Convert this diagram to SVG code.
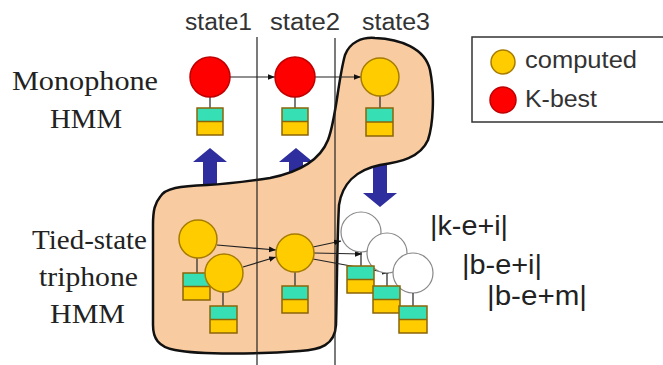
<svg xmlns="http://www.w3.org/2000/svg" width="663" height="365" viewBox="0 0 663 365">
<defs>
<style>
.serif{font-family:"Liberation Serif","Times New Roman",serif;font-size:28px;fill:#222;text-anchor:middle}
.sans{font-family:"Liberation Sans",Arial,sans-serif;fill:#333}
.yc{fill:#FFCC00;stroke:#A67C00;stroke-width:1.5}
.rc{fill:#FF0000;stroke:#C00000;stroke-width:1.5}
.wc{fill:#FFFFFF;stroke:#888;stroke-width:1.2}
.g{fill:#36E0B4}
.y{fill:#FFCC00}
.box{fill:none;stroke:#8B6508;stroke-width:1.5}
.stem{stroke:#333;stroke-width:1.3}
.conn{stroke:#222;stroke-width:1.2;fill:none}
.blue{fill:#2E2E9E}
.div{stroke:#222;stroke-width:1.2}
</style>
<marker id="ah" viewBox="0 0 10 10" refX="10" refY="5" markerWidth="7" markerHeight="7" orient="auto" markerUnits="userSpaceOnUse">
<path d="M0,1 L10,5 L0,9 Z" fill="#111"/>
</marker>
</defs>
<rect width="663" height="365" fill="#FFFFFF"/>

<!-- blue arrows (under blob) -->
<g id="arrow-up-1"><path class="blue" d="M210,148 L227,162 L217,162 L217,195 L203,195 L203,162 L193,162 Z"/></g>
<g id="arrow-up-2"><path class="blue" d="M296,148 L313,162 L303,162 L303,190 L289,190 L289,162 L279,162 Z"/></g>
<g id="arrow-down"><path class="blue" d="M380,207 L397,193 L387,193 L387,155 L373,155 L373,193 L363,193 Z"/></g>

<!-- blob -->
<g id="blob">
<path d="M160,197 C165,188 180,186 207,185 C230,184 250,181 270,178 C300,172 320,160 328,140 C336,120 338,80 345,55 C350,42 362,37 375,38 C400,39 425,48 430,70 C435,95 433,125 428,140 C420,158 400,162 380,165 C355,170 342,185 339,205 C337,240 337,290 336,325 C335,345 320,350 300,351 C260,354 200,355 175,350 C158,347 153,338 153,325 L153,225 C153,210 155,203 160,197 Z" fill="#F9CBA0" stroke="#111" stroke-width="2.5"/>
</g>

<!-- dividers -->
<g id="dividers">
<line class="div" x1="257" y1="37" x2="257" y2="365"/>
<line class="div" x1="335" y1="38" x2="335" y2="365"/>
</g>

<!-- headers -->
<g id="headers" class="sans" font-size="23">
<text x="185" y="30" textLength="67" lengthAdjust="spacingAndGlyphs">state1</text>
<text x="270" y="30" textLength="70" lengthAdjust="spacingAndGlyphs">state2</text>
<text x="362" y="30" textLength="68" lengthAdjust="spacingAndGlyphs">state3</text>
</g>

<!-- row labels -->
<g id="label-mono">
<text class="serif" x="85" y="90" textLength="146" lengthAdjust="spacingAndGlyphs">Monophone</text>
<text class="serif" x="86" y="128" textLength="72" lengthAdjust="spacingAndGlyphs">HMM</text>
</g>
<g id="label-tri">
<text class="serif" x="89.5" y="249" textLength="115" lengthAdjust="spacingAndGlyphs">Tied-state</text>
<text class="serif" x="88.5" y="286" textLength="99" lengthAdjust="spacingAndGlyphs">triphone</text>
<text class="serif" x="87.5" y="323" textLength="75" lengthAdjust="spacingAndGlyphs">HMM</text>
</g>

<!-- connectors -->
<g id="connectors">
<line class="conn" x1="230" y1="77" x2="275" y2="77" marker-end="url(#ah)"/>
<line class="conn" x1="315" y1="77" x2="361" y2="77" marker-end="url(#ah)"/>
<line class="conn" x1="217" y1="245" x2="276" y2="250" marker-end="url(#ah)"/>
<line class="conn" x1="243" y1="267" x2="276" y2="257" marker-end="url(#ah)"/>
<line class="conn" x1="313" y1="247" x2="341" y2="241" marker-end="url(#ah)"/>
<line class="conn" x1="314" y1="253" x2="362" y2="254" marker-end="url(#ah)"/>
<line class="conn" x1="313" y1="259" x2="389" y2="273" marker-end="url(#ah)"/>
</g>

<!-- monophone nodes -->
<g id="mono-s1">
<line class="stem" x1="210" y1="97" x2="210" y2="108"/>
<circle class="rc" cx="210" cy="77" r="20"/>
<rect class="g" x="197" y="108" width="26" height="13.5"/><rect class="y" x="197" y="121.5" width="26" height="13.5"/><rect class="box" x="197" y="108" width="26" height="27"/><line class="box" x1="197" y1="121.5" x2="223" y2="121.5"/>
</g>
<g id="mono-s2">
<line class="stem" x1="295" y1="97" x2="295" y2="108"/>
<circle class="rc" cx="295" cy="77" r="20"/>
<rect class="g" x="282" y="108" width="26" height="13.5"/><rect class="y" x="282" y="121.5" width="26" height="13.5"/><rect class="box" x="282" y="108" width="26" height="27"/><line class="box" x1="282" y1="121.5" x2="308" y2="121.5"/>
</g>
<g id="mono-s3">
<line class="stem" x1="380" y1="96" x2="380" y2="108"/>
<circle class="yc" cx="380" cy="77" r="19"/>
<rect class="g" x="366" y="108" width="27" height="14"/><rect class="y" x="366" y="122" width="27" height="14"/><rect class="box" x="366" y="108" width="27" height="28"/><line class="box" x1="366" y1="122" x2="393" y2="122"/>
</g>

<!-- triphone nodes -->
<g id="tri-s1a">
<line class="stem" x1="197" y1="258" x2="197" y2="273"/>
<rect class="g" x="183" y="273" width="27" height="13.5"/><rect class="y" x="183" y="286.5" width="27" height="13.5"/><rect class="box" x="183" y="273" width="27" height="27"/><line class="box" x1="183" y1="286.5" x2="210" y2="286.5"/>
<circle class="yc" cx="198" cy="239" r="19"/>
</g>
<g id="tri-s1b">
<line class="stem" x1="223" y1="292" x2="223" y2="306"/>
<circle class="yc" cx="224" cy="273" r="19"/>
<rect class="g" x="210" y="306" width="27" height="13.5"/><rect class="y" x="210" y="319.5" width="27" height="13.5"/><rect class="box" x="210" y="306" width="27" height="27"/><line class="box" x1="210" y1="319.5" x2="237" y2="319.5"/>
</g>
<g id="tri-s2">
<line class="stem" x1="295" y1="272" x2="295" y2="286"/>
<circle class="yc" cx="295" cy="253" r="19"/>
<rect class="g" x="282" y="286" width="26" height="13.5"/><rect class="y" x="282" y="299.5" width="26" height="13.5"/><rect class="box" x="282" y="286" width="26" height="27"/><line class="box" x1="282" y1="299.5" x2="308" y2="299.5"/>
</g>
<g id="tri-s3a">
<circle class="wc" cx="361" cy="232" r="20"/>
<line class="stem" x1="361" y1="252" x2="361" y2="266"/>
</g>
<g id="tri-s3b">
<circle class="wc" cx="387" cy="253" r="20"/>
<line class="stem" x1="387" y1="273" x2="387" y2="286"/>
<rect class="g" x="347" y="266" width="27" height="13.5"/><rect class="y" x="347" y="279.5" width="27" height="13.5"/><rect class="box" x="347" y="266" width="27" height="27"/><line class="box" x1="347" y1="279.5" x2="374" y2="279.5"/>
</g>
<g id="tri-s3c">
<circle class="wc" cx="413" cy="273" r="20"/>
<line class="stem" x1="413" y1="293" x2="413" y2="306"/>
<rect class="g" x="373" y="286" width="27" height="13.5"/><rect class="y" x="373" y="299.5" width="27" height="13.5"/><rect class="box" x="373" y="286" width="27" height="27"/><line class="box" x1="373" y1="299.5" x2="400" y2="299.5"/>
<rect class="g" x="399" y="306" width="28" height="13.5"/><rect class="y" x="399" y="319.5" width="28" height="13.5"/><rect class="box" x="399" y="306" width="28" height="27"/><line class="box" x1="399" y1="319.5" x2="427" y2="319.5"/>
</g>

<!-- triphone context labels -->
<g id="ctx-labels" class="sans" font-size="28" fill="#222">
<text x="430" y="235" textLength="78" lengthAdjust="spacingAndGlyphs" style="fill:#222">|k-e+i|</text>
<text x="462" y="274" textLength="80" lengthAdjust="spacingAndGlyphs" style="fill:#222">|b-e+i|</text>
<text x="487" y="305" textLength="100" lengthAdjust="spacingAndGlyphs" style="fill:#222">|b-e+m|</text>
</g>

<!-- legend -->
<g id="legend">
<rect x="472" y="37" width="200" height="85" fill="#FFFFFF" stroke="#333" stroke-width="1.5"/>
<circle class="yc" cx="503" cy="62" r="12"/>
<circle class="rc" cx="503" cy="100" r="13"/>
<text class="sans" x="525" y="68" font-size="23" textLength="112" lengthAdjust="spacingAndGlyphs">computed</text>
<text class="sans" x="525" y="107" font-size="23" textLength="72" lengthAdjust="spacingAndGlyphs">K-best</text>
</g>
</svg>
